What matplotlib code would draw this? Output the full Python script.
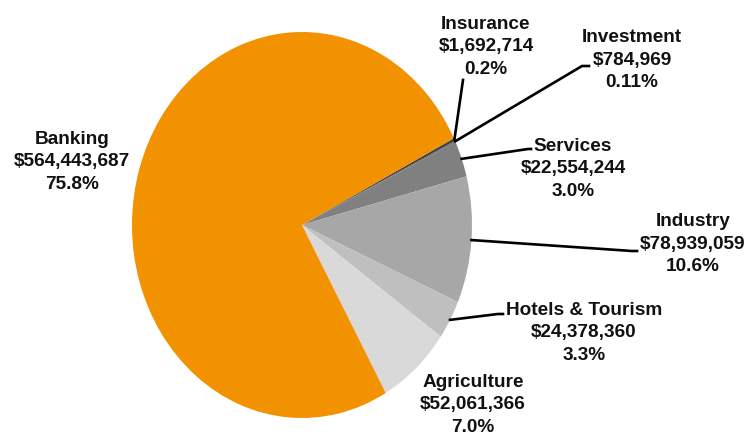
import numpy as np
import matplotlib
matplotlib.use('Agg')
import matplotlib.pyplot as plt


# sectors, clockwise from the top-right edge of Banking
sectors = ['Insurance', 'Investment', 'Services', 'Industry',
           'Hotels & Tourism', 'Agriculture', 'Banking']
amounts = [1692714, 784969, 22554244, 78939059, 24378360, 52061366, 564443687]
pct_labels = ['0.2%', '0.11%', '3.0%', '10.6%', '3.3%', '7.0%', '75.8%']
colors = ['#404040', '#5a5a5a', '#808080', '#a7a7a7', '#bfbfbf', '#d9d9d9', '#f39200']

W, H = 746, 438
# label block centres (pixels) and leader elbows (None = no leader)
label_pos = [(486, 47), (632, 60), (573, 169), (693, 244),
             (584, 333), (473, 405), (72, 162)]
elbows = [[(463, 80)], [(582, 66), (589, 66)], [(528, 149), (531, 149)],
          [(632, 251), (637, 251)], [(498, 314), (503, 314)], None, None]


def px(x, y):
    return x / W, 1 - y / H


plt.rcParams['font.family'] = ['Liberation Sans', 'DejaVu Sans']

fig = plt.figure(figsize=(W / 100, H / 100), dpi=100)
# pie is slightly taller than wide in the original
left, top, rx, ry = 132, 32, 170, 193
ax = fig.add_axes([left / W, (H - top - 2 * ry) / H, 2 * rx / W, 2 * ry / H])

wedges, _ = ax.pie(amounts, colors=colors, startangle=26.7, counterclock=False,
                   wedgeprops=dict(linewidth=0))
ax.set_aspect('auto')
ax.set_xlim(-1, 1)
ax.set_ylim(-1, 1)
ax.axis('off')

for w, name, amt, pct, (lx, ly), elb in zip(wedges, sectors, amounts, pct_labels,
                                            label_pos, elbows):
    txt = f'{name}\n${amt:,}\n{pct}'
    fig.text(*px(lx, ly), txt, ha='center', va='center', fontsize=13.7,
             fontweight='bold', linespacing=1.4, color='#111111')
    if elb is None:
        continue
    mid = np.deg2rad((w.theta1 + w.theta2) / 2)
    # start point of leader on the pie edge, in figure fraction
    sx, sy = fig.transFigure.inverted().transform(
        ax.transData.transform((np.cos(mid), np.sin(mid))))
    xs = [sx] + [px(*p)[0] for p in elb]
    ys = [sy] + [px(*p)[1] for p in elb]
    fig.add_artist(plt.Line2D(xs, ys, color='black', lw=1.9,
                              transform=fig.transFigure))

fig.savefig('out.png', dpi=100)
